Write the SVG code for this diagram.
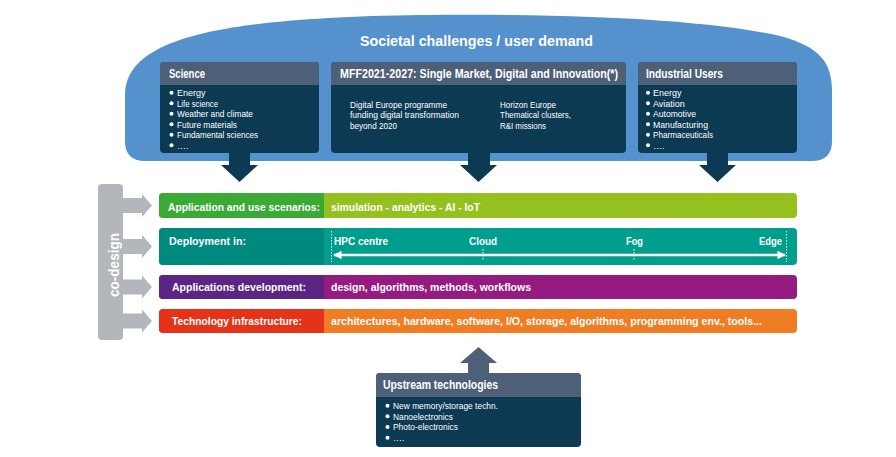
<svg xmlns="http://www.w3.org/2000/svg" width="896" height="457" viewBox="0 0 896 457">
  <style>
    text { font-family: "Liberation Sans", Arial, sans-serif; fill: #ffffff; }
    .title { font-size: 15.5px; font-weight: bold; }
    .hdr { font-size: 12px; font-weight: bold; }
    .item { font-size: 9px; }
    .row { font-size: 11.5px; font-weight: bold; }
    .codesign { font-size: 15px; font-weight: bold; }
    .hdrfill { fill: #4e6077; }
    .bodyfill { fill: #0c3a52; }
    .dot { fill: #ffffff; }
    .tick { stroke: #ffffff; stroke-width: 1; stroke-dasharray: 1.5 1.5; fill: none; }
  </style>
  <defs>
    <marker id="headR" viewBox="0 0 10 10" refX="9" refY="5" markerWidth="3.5" markerHeight="3.5" orient="auto">
      <path d="M0,0 L10,5 L0,10 Z" fill="#ffffff"/>
    </marker>
    <marker id="headL" viewBox="0 0 10 10" refX="1" refY="5" markerWidth="3.5" markerHeight="3.5" orient="auto">
      <path d="M10,0 L0,5 L10,10 Z" fill="#ffffff"/>
    </marker>
  </defs>

  <!-- Societal challenges cloud -->
  <g id="societal">
    <path d="M145,161 Q125,161 125,141 L125,95 C125,38 220,18 420,15 C600,13 720,22 780,36 C820,47 832,62 832,92 L832,141 Q832,161 812,161 Z" fill="#5591cd"/>
    <text class="title" x="476.5" y="46" text-anchor="middle" textLength="233" lengthAdjust="spacingAndGlyphs">Societal challenges / user demand</text>
  </g>

  <!-- Science -->
  <g id="science">
    <rect class="bodyfill" x="160" y="62" width="159" height="91" rx="4"/>
    <path class="hdrfill" d="M160,85 L160,66 Q160,62 164,62 L315,62 Q319,62 319,66 L319,85 Z"/>
    <text class="hdr" x="169" y="78" textLength="36" lengthAdjust="spacingAndGlyphs">Science</text>
    <circle class="dot" cx="171.5" cy="92.8" r="2"/>
    <circle class="dot" cx="171.5" cy="103.3" r="2"/>
    <circle class="dot" cx="171.5" cy="113.8" r="2"/>
    <circle class="dot" cx="171.5" cy="124.3" r="2"/>
    <circle class="dot" cx="171.5" cy="134.8" r="2"/>
    <circle class="dot" cx="171.5" cy="145.3" r="2"/>
    <text class="item" x="177" y="96">Energy</text>
    <text class="item" x="177" y="106.5" textLength="41" lengthAdjust="spacingAndGlyphs">Life science</text>
    <text class="item" x="177" y="117" textLength="76" lengthAdjust="spacingAndGlyphs">Weather and climate</text>
    <text class="item" x="177" y="127.5" textLength="60" lengthAdjust="spacingAndGlyphs">Future materials</text>
    <text class="item" x="177" y="138" textLength="81" lengthAdjust="spacingAndGlyphs">Fundamental sciences</text>
    <text class="item" x="177" y="148.5">….</text>
  </g>

  <!-- MFF2021-2027 -->
  <g id="mff">
    <rect class="bodyfill" x="331" y="62" width="295" height="91" rx="4"/>
    <path class="hdrfill" d="M331,85 L331,66 Q331,62 335,62 L622,62 Q626,62 626,66 L626,85 Z"/>
    <text class="hdr" x="340" y="78" textLength="278" lengthAdjust="spacingAndGlyphs">MFF2021-2027: Single Market, Digital and Innovation(*)</text>
    <text class="item" x="350" y="107.5" textLength="97" lengthAdjust="spacingAndGlyphs">Digital Europe programme</text>
    <text class="item" x="350" y="118" textLength="109" lengthAdjust="spacingAndGlyphs">funding digital transformation</text>
    <text class="item" x="350" y="128.5" textLength="47" lengthAdjust="spacingAndGlyphs">beyond 2020</text>
    <text class="item" x="500" y="107.5" textLength="56" lengthAdjust="spacingAndGlyphs">Horizon Europe</text>
    <text class="item" x="500" y="118" textLength="71" lengthAdjust="spacingAndGlyphs">Thematical clusters,</text>
    <text class="item" x="500" y="128.5" textLength="46" lengthAdjust="spacingAndGlyphs">R&amp;I missions</text>
  </g>

  <!-- Industrial Users -->
  <g id="industrial">
    <rect class="bodyfill" x="638" y="62" width="159" height="91" rx="4"/>
    <path class="hdrfill" d="M638,85 L638,66 Q638,62 642,62 L793,62 Q797,62 797,66 L797,85 Z"/>
    <text class="hdr" x="646" y="78" textLength="77" lengthAdjust="spacingAndGlyphs">Industrial Users</text>
    <circle class="dot" cx="648" cy="92.8" r="2"/>
    <circle class="dot" cx="648" cy="103.3" r="2"/>
    <circle class="dot" cx="648" cy="113.8" r="2"/>
    <circle class="dot" cx="648" cy="124.3" r="2"/>
    <circle class="dot" cx="648" cy="134.8" r="2"/>
    <circle class="dot" cx="648" cy="145.3" r="2"/>
    <text class="item" x="653" y="96">Energy</text>
    <text class="item" x="653" y="106.5">Aviation</text>
    <text class="item" x="653" y="117" textLength="43" lengthAdjust="spacingAndGlyphs">Automotive</text>
    <text class="item" x="653" y="127.5" textLength="55" lengthAdjust="spacingAndGlyphs">Manufacturing</text>
    <text class="item" x="653" y="138" textLength="60" lengthAdjust="spacingAndGlyphs">Pharmaceuticals</text>
    <text class="item" x="653" y="148.5">….</text>
  </g>

  <!-- Layer rows -->
  <g id="row-applications">
    <rect x="159" y="193" width="638" height="25" rx="4" fill="#95c11f"/>
    <path d="M324,193 L163,193 Q159,193 159,197 L159,214 Q159,218 163,218 L324,218 Z" fill="#3aaa35"/>
    <text class="row" x="168" y="211" textLength="152" lengthAdjust="spacingAndGlyphs">Application and use scenarios:</text>
    <text class="row" x="331" y="211" textLength="149" lengthAdjust="spacingAndGlyphs">simulation - analytics - AI - IoT</text>
  </g>

  <g id="row-deployment">
    <rect x="159" y="228" width="638" height="37" rx="4" fill="#009e8d"/>
    <path d="M324,228 L163,228 Q159,228 159,232 L159,261 Q159,265 163,265 L324,265 Z" fill="#00897f"/>
    <text class="row" x="169" y="245" textLength="77" lengthAdjust="spacingAndGlyphs">Deployment in:</text>
    <text class="row" x="334" y="245" textLength="54" lengthAdjust="spacingAndGlyphs">HPC centre</text>
    <text class="row" x="469" y="245" textLength="28" lengthAdjust="spacingAndGlyphs">Cloud</text>
    <text class="row" x="626" y="245" textLength="17" lengthAdjust="spacingAndGlyphs">Fog</text>
    <text class="row" x="759" y="245" textLength="23" lengthAdjust="spacingAndGlyphs">Edge</text>
    <line class="tick" x1="331.5" y1="231" x2="331.5" y2="262"/>
    <line class="tick" x1="786.5" y1="231" x2="786.5" y2="262"/>
    <line class="tick" x1="483" y1="249" x2="483" y2="261"/>
    <line class="tick" x1="634" y1="249" x2="634" y2="261"/>
    <line x1="334" y1="255" x2="785" y2="255" stroke="#ffffff" stroke-width="2.4" marker-start="url(#headL)" marker-end="url(#headR)"/>
  </g>

  <g id="row-development">
    <rect x="159" y="275" width="638" height="24" rx="4" fill="#951b81"/>
    <path d="M324,275 L163,275 Q159,275 159,279 L159,295 Q159,299 163,299 L324,299 Z" fill="#5c2483"/>
    <text class="row" x="172" y="291" textLength="134" lengthAdjust="spacingAndGlyphs">Applications development:</text>
    <text class="row" x="331" y="291" textLength="200" lengthAdjust="spacingAndGlyphs">design, algorithms, methods, workflows</text>
  </g>

  <g id="row-infrastructure">
    <rect x="159" y="309" width="638" height="24" rx="4" fill="#ee7d24"/>
    <path d="M324,309 L163,309 Q159,309 159,313 L159,329 Q159,333 163,333 L324,333 Z" fill="#e5331a"/>
    <text class="row" x="172" y="325" textLength="130" lengthAdjust="spacingAndGlyphs">Technology infrastructure:</text>
    <text class="row" x="331" y="325" textLength="431" lengthAdjust="spacingAndGlyphs">architectures, hardware, software, I/O, storage, algorithms, programming env., tools...</text>
  </g>

  <!-- co-design bar -->
  <g id="co-design">
    <rect x="98" y="184" width="25" height="156" rx="4" fill="#b3b7bb"/>
    <text class="codesign" transform="translate(118.5,265) rotate(-90)" text-anchor="middle" textLength="64" lengthAdjust="spacingAndGlyphs">co-design</text>
  </g>

  <!-- Upstream technologies -->
  <g id="upstream">
    <rect class="bodyfill" x="376" y="373" width="205" height="74" rx="4"/>
    <path class="hdrfill" d="M376,397 L376,377 Q376,373 380,373 L577,373 Q581,373 581,377 L581,397 Z"/>
    <text class="hdr" x="383" y="389" textLength="115" lengthAdjust="spacingAndGlyphs">Upstream technologies</text>
    <circle class="dot" cx="387.5" cy="405.7" r="2"/>
    <circle class="dot" cx="387.5" cy="416.3" r="2"/>
    <circle class="dot" cx="387.5" cy="427" r="2"/>
    <circle class="dot" cx="387.5" cy="437.7" r="2"/>
    <text class="item" x="393" y="409" textLength="105" lengthAdjust="spacingAndGlyphs">New memory/storage techn.</text>
    <text class="item" x="393" y="419.6" textLength="60" lengthAdjust="spacingAndGlyphs">Nanoelectronics</text>
    <text class="item" x="393" y="430.3" textLength="65" lengthAdjust="spacingAndGlyphs">Photo-electronics</text>
    <text class="item" x="393" y="441">….</text>
  </g>

  <!-- Connectors -->
  <g id="connectors">
    <!-- demand arrows down onto the layers -->
    <path class="bodyfill" d="M229,152 L250,152 L250,165 L258,165 L239.5,182 L221,165 L229,165 Z"/>
    <path class="bodyfill" d="M468,152 L490,152 L490,165 L497,165 L478.5,182 L460,165 L468,165 Z"/>
    <path class="bodyfill" d="M707,152 L728,152 L728,165 L736,165 L717.5,182 L699,165 L707,165 Z"/>
    <!-- upstream arrow up into the infrastructure layer -->
    <path class="hdrfill" d="M468,374 L489,374 L489,363 L497,363 L478.5,347 L460,363 L468,363 Z"/>
    <!-- co-design arrows into each layer -->
    <path fill="#b3b7bb" d="M122,198 L142,198 L142,194 L152,205.5 L142,217 L142,213 L122,213 Z"/>
    <path fill="#b3b7bb" d="M122,239 L142,239 L142,235 L152,246.5 L142,258 L142,254 L122,254 Z"/>
    <path fill="#b3b7bb" d="M122,279.5 L142,279.5 L142,275.5 L152,287 L142,298.5 L142,294.5 L122,294.5 Z"/>
    <path fill="#b3b7bb" d="M122,313.5 L142,313.5 L142,309.5 L152,321 L142,332.5 L142,328.5 L122,328.5 Z"/>
  </g>
</svg>
